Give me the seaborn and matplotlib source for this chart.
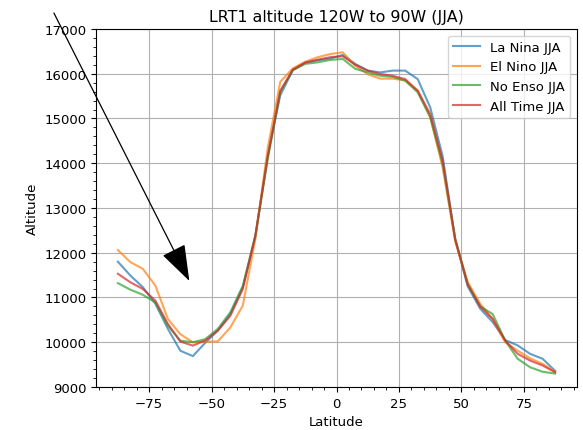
import matplotlib
matplotlib.use("Agg")
import matplotlib.pyplot as plt
from matplotlib.ticker import MultipleLocator
import seaborn as sns
import pandas as pd

latitudes = [-87.5, -82.5, -77.5, -72.5, -67.5, -62.5, -57.5, -52.5, -47.5, -42.5,
             -37.5, -32.5, -27.5, -22.5, -17.5, -12.5, -7.5, -2.5, 2.5, 7.5,
             12.5, 17.5, 22.5, 27.5, 32.5, 37.5, 42.5, 47.5, 52.5, 57.5,
             62.5, 67.5, 72.5, 77.5, 82.5, 87.5]

la_nina = [11800, 11490, 11230, 10860, 10300, 9810, 9690, 9990, 10260, 10630,
           11230, 12350, 14200, 15520, 16080, 16250, 16300, 16340, 16420, 16220,
           16070, 16030, 16070, 16070, 15880, 15250, 14150, 12300, 11250, 10750,
           10450, 10050, 9930, 9740, 9630, 9360]

el_nino = [12060, 11790, 11640, 11265, 10520, 10180, 10000, 10010, 10020, 10330,
           10820, 12300, 14350, 15820, 16120, 16270, 16370, 16440, 16480, 16180,
           15990, 15890, 15890, 15850, 15620, 15030, 13900, 12250, 11350, 10860,
           10520, 10000, 9810, 9640, 9515, 9340]

no_enso = [11320, 11175, 11060, 10890, 10370, 10035, 10000, 10070, 10300, 10670,
           11260, 12380, 14100, 15600, 16080, 16220, 16255, 16310, 16330, 16110,
           16030, 15955, 15930, 15845, 15585, 15030, 13980, 12320, 11300, 10800,
           10630, 10040, 9630, 9440, 9340, 9300]

all_time = [11530, 11340, 11190, 10930, 10410, 10015, 9925, 10040, 10260, 10590,
            11190, 12380, 14150, 15620, 16090, 16250, 16315, 16370, 16390, 16200,
            16070, 15995, 15955, 15880, 15620, 15100, 14050, 12300, 11290, 10800,
            10520, 10040, 9740, 9590, 9480, 9330]

series_names = ["La Nina JJA", "El Nino JJA", "No Enso JJA", "All Time JJA"]
series_values = [la_nina, el_nino, no_enso, all_time]
colors = ["#1f77b4", "#ff7f0e", "#2ca02c", "#d62728"]

title = "LRT1 altitude 120W to 90W (JJA)"

plt.rcParams["font.family"] = ["DejaVu Sans"]
fs = 9.5

fig = plt.figure(figsize=(5.83, 4.31), dpi=100)
ax = fig.add_axes([0.1647, 0.0998, 0.825, 0.8306])

for name, vals, col in zip(series_names, series_values, colors):
    df = pd.DataFrame({"Latitude": latitudes, "Altitude": vals})
    sns.lineplot(data=df, x="Latitude", y="Altitude", ax=ax, color=col,
                 alpha=0.7, linewidth=1.5, label=name)

ax.set_ylim(9000, 17000)
ax.set_xlim(-96.25, 96.25)
ax.xaxis.set_major_locator(MultipleLocator(25))
ax.xaxis.set_minor_locator(MultipleLocator(5))
ax.yaxis.set_major_locator(MultipleLocator(1000))
ax.yaxis.set_minor_locator(MultipleLocator(200))
ax.grid(True, which="major", color="#b0b0b0", linewidth=0.8)
ax.tick_params(labelsize=fs)
ax.set_xlabel("Latitude", fontsize=fs)
ax.set_ylabel("Altitude", fontsize=fs)
ax.set_title(title, fontsize=11.4)
ax.legend(loc="upper right", fontsize=fs)

ax.annotate("", xy=(-58.9, 11370), xytext=(-113.1, 17357),
            xycoords="data", textcoords="data", annotation_clip=False,
            arrowprops=dict(arrowstyle="-|>,head_length=1.15,head_width=0.4",
                            mutation_scale=20, color="black", lw=0.9,
                            shrinkA=0, shrinkB=0))

fig.savefig("out.png", dpi=100)
